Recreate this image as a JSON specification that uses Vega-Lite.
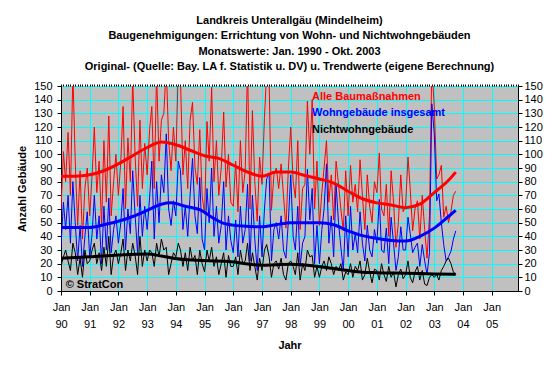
{
  "$schema": "https://vega.github.io/schema/vega-lite/v6.json",
  "width": 457,
  "height": 205,
  "autosize": {"type": "none"},
  "padding": {"left": 61, "top": 86, "right": 42, "bottom": 83},
  "background": "white",
  "title": {
    "text": ["Landkreis Unterallgäu (Mindelheim)", "Baugenehmigungen: Errichtung von Wohn- und Nichtwohngebäuden", "Monatswerte: Jan. 1990 - Okt. 2003", "Original- (Quelle: Bay. LA f. Statistik u. DV) u. Trendwerte (eigene Berechnung)"],
    "frame": "group", "anchor": "middle", "fontSize": 11, "fontWeight": "bold", "font": "Liberation Sans", "lineHeight": 15.5, "offset": 8, "color": "black"
  },
  "config": {
    "font": "Liberation Sans",
    "view": {"fill": "#C0C0C0", "stroke": "#808080"},
    "axis": {"labelFont": "Liberation Sans", "titleFont": "Liberation Sans", "labelFontSize": 11, "titleFontSize": 11, "labelColor": "black", "titleColor": "black", "domainColor": "black", "tickColor": "black", "gridColor": "#00FFFF", "gridOpacity": 1, "gridWidth": 1}
  },
  "datasets": {
    "m": [
      {"d":"1990-01-01","A":60,"W":32,"N":18},{"d":"1990-02-01","A":102,"W":65,"N":25},{"d":"1990-03-01","A":80,"W":45,"N":30},{"d":"1990-04-01","A":116,"W":70,"N":22},{"d":"1990-05-01","A":70,"W":35,"N":15},{"d":"1990-06-01","A":160,"W":80,"N":35},{"d":"1990-07-01","A":95,"W":50,"N":28},{"d":"1990-08-01","A":48,"W":22,"N":12},{"d":"1990-09-01","A":88,"W":48,"N":24},{"d":"1990-10-01","A":38,"W":18,"N":10},{"d":"1990-11-01","A":75,"W":40,"N":30},{"d":"1990-12-01","A":90,"W":58,"N":20},
      {"d":"1991-01-01","A":55,"W":25,"N":22},{"d":"1991-02-01","A":85,"W":42,"N":30},{"d":"1991-03-01","A":120,"W":70,"N":35},{"d":"1991-04-01","A":72,"W":38,"N":20},{"d":"1991-05-01","A":95,"W":55,"N":28},{"d":"1991-06-01","A":48,"W":20,"N":15},{"d":"1991-07-01","A":110,"W":62,"N":32},{"d":"1991-08-01","A":65,"W":30,"N":18},{"d":"1991-09-01","A":128,"W":68,"N":40},{"d":"1991-10-01","A":55,"W":28,"N":12},{"d":"1991-11-01","A":80,"W":45,"N":26},{"d":"1991-12-01","A":100,"W":55,"N":30},
      {"d":"1992-01-01","A":70,"W":35,"N":20},{"d":"1992-02-01","A":95,"W":50,"N":28},{"d":"1992-03-01","A":135,"W":75,"N":38},{"d":"1992-04-01","A":60,"W":30,"N":15},{"d":"1992-05-01","A":112,"W":60,"N":30},{"d":"1992-06-01","A":80,"W":42,"N":22},{"d":"1992-07-01","A":155,"W":88,"N":35},{"d":"1992-08-01","A":98,"W":55,"N":26},{"d":"1992-09-01","A":62,"W":28,"N":12},{"d":"1992-10-01","A":125,"W":70,"N":40},{"d":"1992-11-01","A":75,"W":40,"N":18},{"d":"1992-12-01","A":108,"W":62,"N":30},
      {"d":"1993-01-01","A":85,"W":45,"N":22},{"d":"1993-02-01","A":118,"W":68,"N":30},{"d":"1993-03-01","A":135,"W":95,"N":28},{"d":"1993-04-01","A":75,"W":38,"N":18},{"d":"1993-05-01","A":160,"W":80,"N":35},{"d":"1993-06-01","A":95,"W":50,"N":25},{"d":"1993-07-01","A":125,"W":85,"N":38},{"d":"1993-08-01","A":130,"W":72,"N":30},{"d":"1993-09-01","A":165,"W":115,"N":32},{"d":"1993-10-01","A":110,"W":60,"N":12},{"d":"1993-11-01","A":88,"W":48,"N":20},{"d":"1993-12-01","A":120,"W":66,"N":28},
      {"d":"1994-01-01","A":95,"W":55,"N":25},{"d":"1994-02-01","A":165,"W":95,"N":35},{"d":"1994-03-01","A":155,"W":88,"N":30},{"d":"1994-04-01","A":85,"W":45,"N":18},{"d":"1994-05-01","A":110,"W":62,"N":28},{"d":"1994-06-01","A":75,"W":40,"N":15},{"d":"1994-07-01","A":125,"W":70,"N":32},{"d":"1994-08-01","A":138,"W":97,"N":22},{"d":"1994-09-01","A":90,"W":55,"N":26},{"d":"1994-10-01","A":78,"W":42,"N":12},{"d":"1994-11-01","A":118,"W":83,"N":30},{"d":"1994-12-01","A":70,"W":38,"N":20},
      {"d":"1995-01-01","A":56,"W":30,"N":14},{"d":"1995-02-01","A":124,"W":75,"N":30},{"d":"1995-03-01","A":95,"W":50,"N":22},{"d":"1995-04-01","A":149,"W":90,"N":32},{"d":"1995-05-01","A":80,"W":40,"N":18},{"d":"1995-06-01","A":110,"W":62,"N":25},{"d":"1995-07-01","A":70,"W":35,"N":12},{"d":"1995-08-01","A":90,"W":48,"N":20},{"d":"1995-09-01","A":131,"W":80,"N":28},{"d":"1995-10-01","A":76,"W":30,"N":10},{"d":"1995-11-01","A":100,"W":55,"N":26},{"d":"1995-12-01","A":65,"W":37,"N":18},
      {"d":"1996-01-01","A":62,"W":28,"N":18},{"d":"1996-02-01","A":95,"W":52,"N":25},{"d":"1996-03-01","A":58,"W":25,"N":12},{"d":"1996-04-01","A":110,"W":62,"N":30},{"d":"1996-05-01","A":72,"W":35,"N":20},{"d":"1996-06-01","A":88,"W":45,"N":22},{"d":"1996-07-01","A":165,"W":78,"N":35},{"d":"1996-08-01","A":60,"W":22,"N":15},{"d":"1996-09-01","A":132,"W":70,"N":28},{"d":"1996-10-01","A":80,"W":38,"N":18},{"d":"1996-11-01","A":51,"W":15,"N":8},{"d":"1996-12-01","A":98,"W":55,"N":24},
      {"d":"1997-01-01","A":78,"W":25,"N":15},{"d":"1997-02-01","A":127,"W":60,"N":30},{"d":"1997-03-01","A":160,"W":82,"N":34},{"d":"1997-04-01","A":155,"W":86,"N":25},{"d":"1997-05-01","A":59,"W":22,"N":10},{"d":"1997-06-01","A":85,"W":45,"N":20},{"d":"1997-07-01","A":90,"W":50,"N":22},{"d":"1997-08-01","A":75,"W":38,"N":16},{"d":"1997-09-01","A":93,"W":55,"N":24},{"d":"1997-10-01","A":70,"W":30,"N":12},{"d":"1997-11-01","A":46,"W":24,"N":8},{"d":"1997-12-01","A":88,"W":50,"N":20},
      {"d":"1998-01-01","A":120,"W":85,"N":22},{"d":"1998-02-01","A":80,"W":40,"N":18},{"d":"1998-03-01","A":68,"W":30,"N":12},{"d":"1998-04-01","A":110,"W":62,"N":28},{"d":"1998-05-01","A":45,"W":18,"N":8},{"d":"1998-06-01","A":75,"W":35,"N":20},{"d":"1998-07-01","A":78,"W":40,"N":15},{"d":"1998-08-01","A":139,"W":89,"N":30},{"d":"1998-09-01","A":100,"W":52,"N":25},{"d":"1998-10-01","A":140,"W":75,"N":26},{"d":"1998-11-01","A":60,"W":20,"N":10},{"d":"1998-12-01","A":95,"W":48,"N":18},
      {"d":"1999-01-01","A":48,"W":20,"N":10},{"d":"1999-02-01","A":72,"W":45,"N":18},{"d":"1999-03-01","A":90,"W":60,"N":22},{"d":"1999-04-01","A":110,"W":93,"N":15},{"d":"1999-05-01","A":65,"W":35,"N":25},{"d":"1999-06-01","A":85,"W":55,"N":20},{"d":"1999-07-01","A":52,"W":25,"N":12},{"d":"1999-08-01","A":95,"W":78,"N":18},{"d":"1999-09-01","A":78,"W":50,"N":15},{"d":"1999-10-01","A":60,"W":32,"N":20},{"d":"1999-11-01","A":44,"W":15,"N":8},{"d":"1999-12-01","A":88,"W":55,"N":14},
      {"d":"2000-01-01","A":55,"W":25,"N":12},{"d":"2000-02-01","A":92,"W":62,"N":20},{"d":"2000-03-01","A":65,"W":30,"N":10},{"d":"2000-04-01","A":78,"W":42,"N":18},{"d":"2000-05-01","A":58,"W":28,"N":15},{"d":"2000-06-01","A":96,"W":58,"N":22},{"d":"2000-07-01","A":70,"W":35,"N":8},{"d":"2000-08-01","A":45,"W":22,"N":12},{"d":"2000-09-01","A":85,"W":48,"N":24},{"d":"2000-10-01","A":62,"W":30,"N":14},{"d":"2000-11-01","A":50,"W":25,"N":6},{"d":"2000-12-01","A":80,"W":45,"N":16},
      {"d":"2001-01-01","A":72,"W":35,"N":15},{"d":"2001-02-01","A":101,"W":67,"N":8},{"d":"2001-03-01","A":60,"W":30,"N":20},{"d":"2001-04-01","A":55,"W":28,"N":12},{"d":"2001-05-01","A":78,"W":46,"N":7},{"d":"2001-06-01","A":40,"W":20,"N":18},{"d":"2001-07-01","A":88,"W":54,"N":10},{"d":"2001-08-01","A":65,"W":35,"N":14},{"d":"2001-09-01","A":32,"W":15,"N":3},{"d":"2001-10-01","A":50,"W":25,"N":12},{"d":"2001-11-01","A":85,"W":47,"N":16},{"d":"2001-12-01","A":58,"W":30,"N":9},
      {"d":"2002-01-01","A":62,"W":30,"N":12},{"d":"2002-02-01","A":98,"W":54,"N":22},{"d":"2002-03-01","A":75,"W":42,"N":10},{"d":"2002-04-01","A":44,"W":28,"N":6},{"d":"2002-05-01","A":60,"W":32,"N":14},{"d":"2002-06-01","A":66,"W":35,"N":18},{"d":"2002-07-01","A":38,"W":18,"N":8},{"d":"2002-08-01","A":70,"W":34,"N":15},{"d":"2002-09-01","A":45,"W":22,"N":5},{"d":"2002-10-01","A":24,"W":12,"N":4},{"d":"2002-11-01","A":55,"W":28,"N":10},{"d":"2002-12-01","A":165,"W":137,"N":12},
      {"d":"2003-01-01","A":135,"W":115,"N":10},{"d":"2003-02-01","A":82,"W":66,"N":12},{"d":"2003-03-01","A":85,"W":71,"N":8},{"d":"2003-04-01","A":92,"W":50,"N":15},{"d":"2003-05-01","A":54,"W":34,"N":18},{"d":"2003-06-01","A":62,"W":22,"N":22},{"d":"2003-07-01","A":50,"W":25,"N":24},{"d":"2003-08-01","A":58,"W":29,"N":20},{"d":"2003-09-01","A":70,"W":38,"N":14},{"d":"2003-10-01","A":73,"W":44,"N":12}
    ],
    "tA": [
      {"d":"1990-01-01","v":84},{"d":"1990-07-01","v":84},{"d":"1991-01-01","v":85},{"d":"1991-07-01","v":88},{"d":"1992-01-01","v":93},{"d":"1992-07-01","v":99},{"d":"1993-01-01","v":105},{"d":"1993-07-01","v":109},{"d":"1994-01-01","v":107},{"d":"1994-07-01","v":103},{"d":"1995-01-01","v":99},{"d":"1995-07-01","v":97},{"d":"1996-01-01","v":92},{"d":"1996-07-01","v":87},{"d":"1997-01-01","v":84},{"d":"1997-07-01","v":87},{"d":"1998-01-01","v":87},{"d":"1998-07-01","v":84.5},{"d":"1999-01-01","v":82},{"d":"1999-07-01","v":79},{"d":"2000-01-01","v":73},{"d":"2000-07-01","v":67.5},{"d":"2001-01-01","v":64.5},{"d":"2001-07-01","v":63},{"d":"2002-01-01","v":61},{"d":"2002-07-01","v":63.5},{"d":"2003-01-01","v":72},{"d":"2003-07-01","v":81},{"d":"2003-10-01","v":87}
    ],
    "tW": [
      {"d":"1990-01-01","v":46.5},{"d":"1991-01-01","v":46.5},{"d":"1991-07-01","v":48.5},{"d":"1992-01-01","v":51},{"d":"1992-07-01","v":54.5},{"d":"1993-01-01","v":59},{"d":"1993-07-01","v":63.5},{"d":"1993-11-01","v":64.5},{"d":"1994-05-01","v":62},{"d":"1994-11-01","v":59.5},{"d":"1995-05-01","v":53},{"d":"1995-09-01","v":49.5},{"d":"1996-05-01","v":47.5},{"d":"1997-01-01","v":47},{"d":"1997-07-01","v":48.5},{"d":"1998-01-01","v":50},{"d":"1999-01-01","v":50},{"d":"1999-07-01","v":48.5},{"d":"2000-01-01","v":44},{"d":"2000-07-01","v":40.5},{"d":"2001-01-01","v":38.5},{"d":"2001-07-01","v":37},{"d":"2002-01-01","v":36.5},{"d":"2002-07-01","v":40},{"d":"2003-01-01","v":46},{"d":"2003-07-01","v":54.5},{"d":"2003-10-01","v":59}
    ],
    "tN": [
      {"d":"1990-01-01","v":24},{"d":"1991-01-01","v":25},{"d":"1992-01-01","v":26.3},{"d":"1993-01-01","v":27},{"d":"1993-07-01","v":25.6},{"d":"1993-12-01","v":24},{"d":"1994-06-01","v":22.8},{"d":"1995-11-01","v":21.5},{"d":"1997-01-01","v":18.8},{"d":"1998-01-01","v":19.5},{"d":"1999-03-01","v":17.4},{"d":"2000-01-01","v":15},{"d":"2000-07-01","v":13.8},{"d":"2001-01-01","v":13.4},{"d":"2002-01-01","v":13},{"d":"2003-01-01","v":12.5},{"d":"2003-10-01","v":12.2}
    ]
  },
  "layer": [
    {
      "data": {"name": "m"},
      "mark": {"type": "line", "strokeWidth": 1, "clip": true},
      "encoding": {
        "x": {"field": "d", "type": "temporal",
          "scale": {"type": "utc", "domain": [{"year": 1990, "month": 1, "date": 1, "utc": true}, {"year": 2005, "month": 12, "date": 1, "utc": true}]},
          "axis": {"title": "Jahr", "titleFontWeight": "bold", "titlePadding": 10, "tickCount": {"interval": "year", "step": 1}, "labelExpr": "['Jan', utcFormat(datum.value, '%y')]", "labelLineHeight": 17, "labelPadding": 6, "tickSize": 4, "grid": true, "labelOverlap": false, "labelFlush": false, "labelAlign": "center", "labelBaseline": "top"}},
        "y": {"field": "A", "type": "quantitative",
          "scale": {"domain": [0, 150], "nice": false},
          "axis": {"title": "Anzahl Gebäude", "titleFontWeight": "bold", "titlePadding": 6, "values": [0,10,20,30,40,50,60,70,80,90,100,110,120,130,140,150], "labelPadding": 5, "tickSize": 4, "grid": true}},
        "color": {"datum": "Alle Baumaßnahmen", "type": "nominal",
          "scale": {"domain": ["Alle Baumaßnahmen", "Wohngebäude insgesamt", "Nichtwohngebäude"], "range": ["#FF0000", "#0000FF", "#000000"]},
          "legend": {"orient": "none", "legendX": 240, "legendY": 5, "title": null, "symbolSize": 0, "symbolOpacity": 0, "symbolStrokeWidth": 0, "labelOffset": 0, "labelFontSize": 11, "labelFontWeight": "bold", "labelFont": "Liberation Sans", "rowPadding": 4.5, "padding": 0, "labelLimit": 300,
            "encode": {"labels": {"update": {"fill": {"signal": "scale('color', datum.value)"}}}}}}
      }
    },
    {
      "data": {"name": "m"},
      "mark": {"type": "line", "strokeWidth": 1, "clip": true},
      "encoding": {
        "x": {"field": "d", "type": "temporal", "axis": {"title": null, "labels": false, "grid": false, "domain": false, "tickCount": {"interval": "month", "step": 1}, "tickSize": 2}},
        "y": {"field": "W", "type": "quantitative", "axis": null},
        "color": {"datum": "Wohngebäude insgesamt", "type": "nominal"}
      }
    },
    {
      "data": {"name": "m"},
      "mark": {"type": "line", "strokeWidth": 1, "clip": true},
      "encoding": {
        "x": {"field": "d", "type": "temporal", "axis": null},
        "y": {"field": "N", "type": "quantitative", "axis": null},
        "color": {"datum": "Nichtwohngebäude", "type": "nominal"}
      }
    },
    {
      "data": {"name": "tA"},
      "mark": {"type": "line", "strokeWidth": 3, "interpolate": "monotone", "clip": true},
      "encoding": {
        "x": {"field": "d", "type": "temporal", "axis": null},
        "y": {"field": "v", "type": "quantitative",
          "axis": {"orient": "right", "title": null, "values": [0,10,20,30,40,50,60,70,80,90,100,110,120,130,140,150], "labelPadding": 2, "tickSize": 4, "grid": false}},
        "color": {"datum": "Alle Baumaßnahmen", "type": "nominal"}
      }
    },
    {
      "data": {"name": "tW"},
      "mark": {"type": "line", "strokeWidth": 3, "interpolate": "monotone", "clip": true},
      "encoding": {
        "x": {"field": "d", "type": "temporal", "axis": null},
        "y": {"field": "v", "type": "quantitative", "axis": null},
        "color": {"datum": "Wohngebäude insgesamt", "type": "nominal"}
      }
    },
    {
      "data": {"name": "tN"},
      "mark": {"type": "line", "strokeWidth": 3, "interpolate": "monotone", "clip": true},
      "encoding": {
        "x": {"field": "d", "type": "temporal", "axis": null},
        "y": {"field": "v", "type": "quantitative", "axis": null},
        "color": {"datum": "Nichtwohngebäude", "type": "nominal"}
      }
    },
    {
      "data": {"values": [{"t": "© StratCon"}]},
      "mark": {"type": "text", "align": "left", "baseline": "middle", "fontWeight": "bold", "fontSize": 11, "font": "Liberation Sans", "color": "black"},
      "encoding": {
        "x": {"datum": {"year": 1990, "month": 3, "date": 1, "utc": true}, "type": "temporal", "axis": null},
        "y": {"datum": 4.5, "type": "quantitative", "axis": null},
        "text": {"field": "t"}
      }
    }
  ],
  "resolve": {"axis": {"y": "independent", "x": "independent"}}
}
